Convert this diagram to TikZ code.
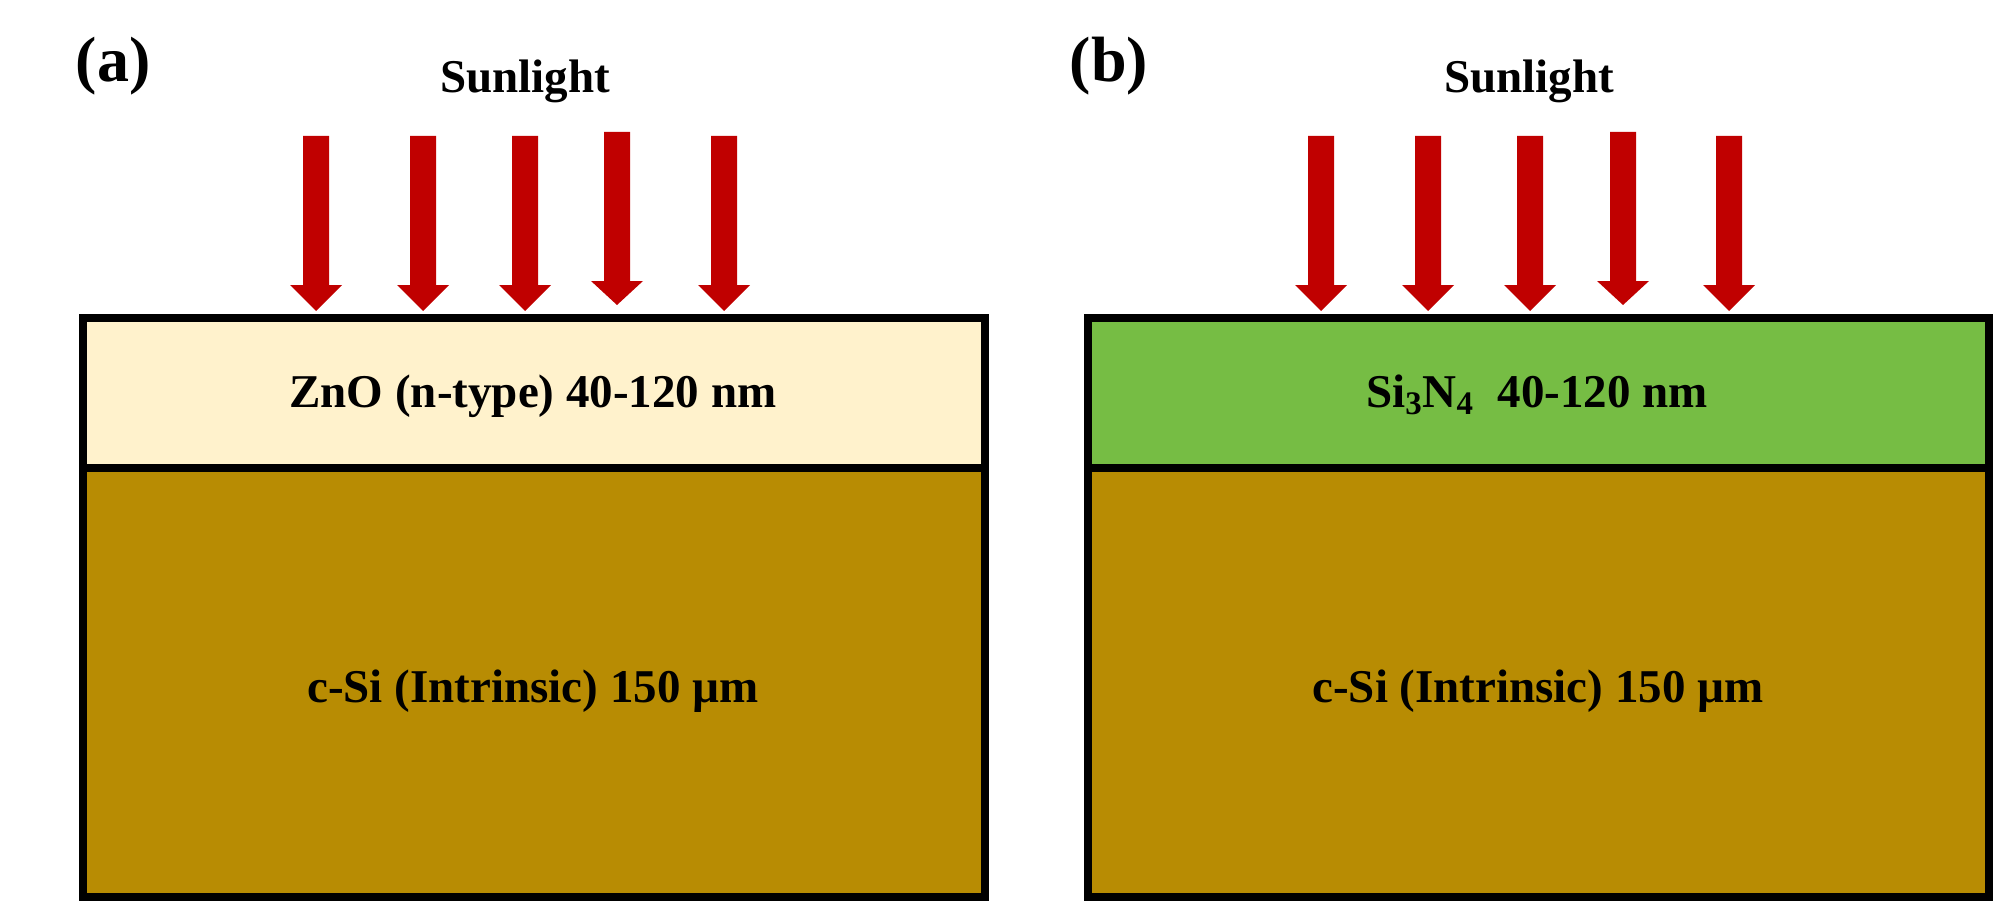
\documentclass[tikz,border=0pt]{standalone}
\usepackage{fontspec}
\setmainfont{Liberation Serif}
\definecolor{arrowred}{HTML}{C00000}
\definecolor{znocol}{HTML}{FFF2CC}
\definecolor{sincol}{HTML}{76BD44}
\definecolor{sicol}{HTML}{B88C03}
\newcommand\sunray[4]{% x, top, headbase, tip
  \fill[arrowred] ({#1-13},#2) -- ({#1+13},#2) -- ({#1+13},#3) -- ({#1+26},#3)
    -- (#1,#4) -- ({#1-26},#3) -- ({#1-13},#3) -- cycle;}
\begin{document}
\begin{tikzpicture}[x=0.5pt,y=-0.5pt,
  layer/.style={draw=black,line width=4pt,inner sep=0pt,minimum width=450.75pt},
  lbl/.style={font=\fontsize{23.5}{28}\selectfont\bfseries,anchor=base,inner sep=0pt},
  panel/.style={font=\fontsize{32}{38}\selectfont\bfseries,anchor=base,inner sep=0pt}]
\useasboundingbox (0,0) rectangle (2000,909);
% ---------- panel (a) ----------
\node[layer,fill=sicol,minimum height=214.75pt] (siA) at (533.75,682.25) {};
\node[layer,fill=znocol,minimum height=75pt] (znoA) at (533.75,392.5) {};
\node[lbl] (znoAt) at (533,407) {ZnO (n-type) 40-120 nm};
\node[lbl] (siAt) at (533,702) {c-Si (Intrinsic) 150 µm};
\node[panel] (labA) at (113,82) {(a)};
\node[lbl] (sunA) at (525,93) {Sunlight};
\sunray{316}{136}{285}{311}
\sunray{423}{136}{285}{311}
\sunray{525}{136}{285}{311}
\sunray{617}{132}{281}{305}
\sunray{724}{136}{285}{311}
% ---------- panel (b) ----------
\node[layer,fill=sicol,minimum height=214.75pt] (siB) at (1538.5,682.25) {};
\node[layer,fill=sincol,minimum height=75pt] (sinB) at (1538.5,392.5) {};
\node[lbl] (sinBt) at (1537,407) {Si\textsubscript{3}N\textsubscript{4}\ \ 40-120 nm};
\node[lbl] (siBt) at (1538,702) {c-Si (Intrinsic) 150 µm};
\node[panel] (labB) at (1109,82) {(b)};
\node[lbl] (sunB) at (1529,93) {Sunlight};
\sunray{1321}{136}{285}{311}
\sunray{1428}{136}{285}{311}
\sunray{1530}{136}{285}{311}
\sunray{1623}{132}{281}{305}
\sunray{1729}{136}{285}{311}
\end{tikzpicture}
\end{document}
